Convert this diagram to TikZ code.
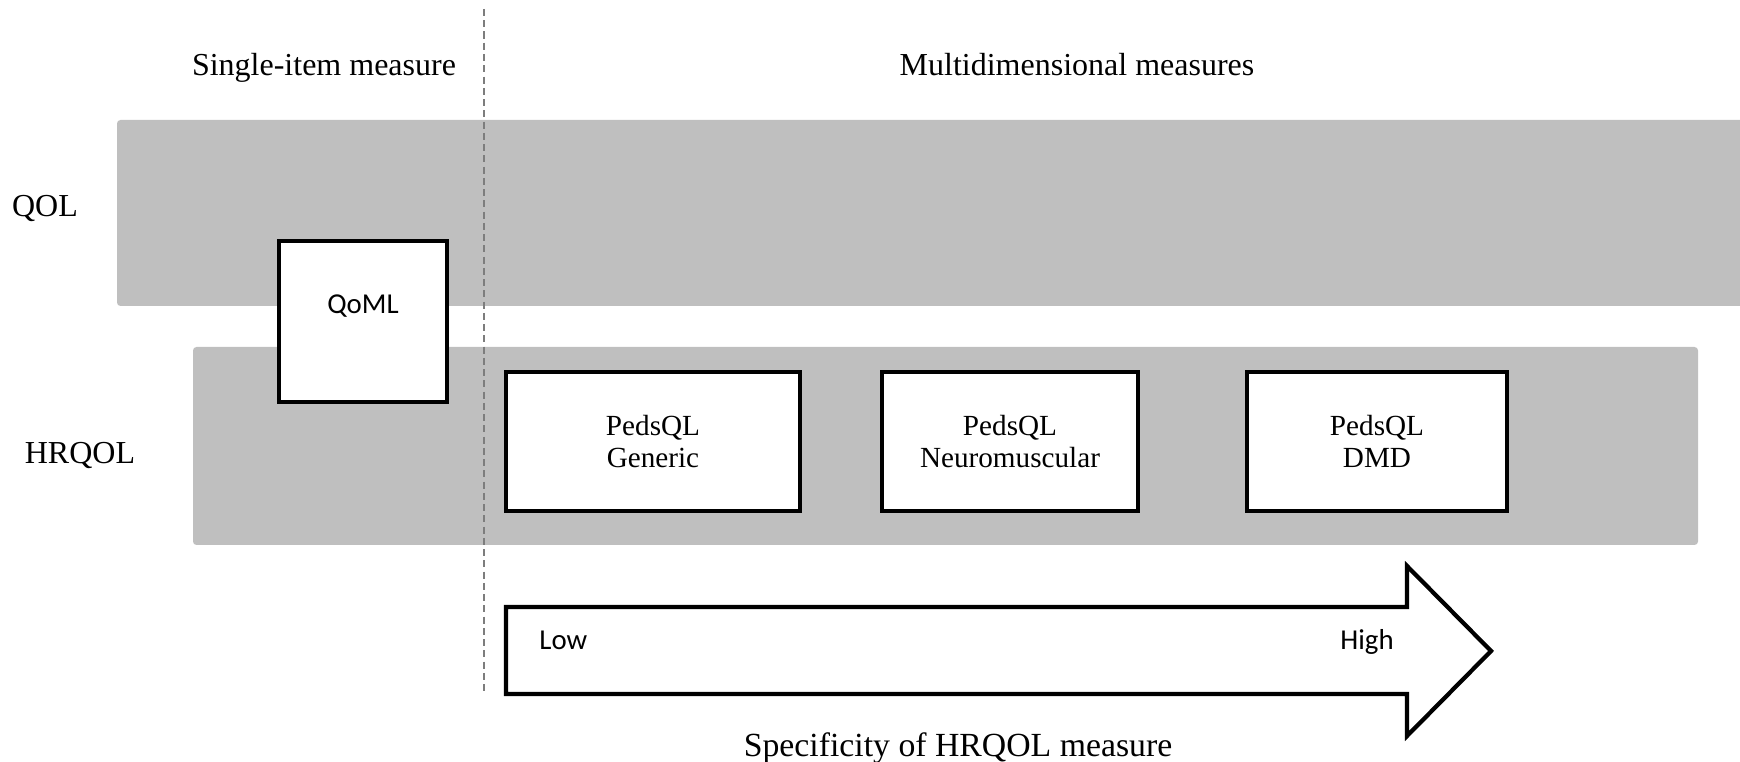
\documentclass[tikz,border=0pt]{standalone}
\usepackage{fontspec}
\setmainfont{Liberation Serif}
\newfontfamily\calibri{Carlito}
\usetikzlibrary{positioning}
\definecolor{bandgray}{RGB}{191,191,191}
\definecolor{dashgray}{RGB}{125,125,125}

\begin{document}
\begin{tikzpicture}[x=0.01cm,y=-0.01cm,
	heading/.style={font=\fontsize{9.1}{11}\selectfont},
	band/.style={fill=bandgray,rounded corners=1pt},
	measure/.style={draw,line width=1.2pt,fill=white,align=center,
		font=\fontsize{8.3}{9.2}\selectfont},
	tag/.style={font=\calibri\fontsize{8.2}{10}\selectfont}]
	\useasboundingbox (0,0) rectangle (1740,762);
	% the two bands
	\fill[band] (117,120) rectangle (1745,306);
	\fill[band] (193,347) rectangle (1698,545);
	% divider between single-item and multidimensional
	\coordinate (divtop) at (484,9);
	\coordinate (divbot) at (484,694);
	\draw[dashgray,line width=0.7pt,dash pattern=on 2pt off 1.2pt] (divtop) -- (divbot);
	\node[heading,anchor=base] (single) at (324,76) {Single-item measure};
	\node[heading,anchor=base] (multi) at (1077,76) {Multidimensional measures};
	\node[heading,anchor=base] (qol) at (45,217) {QOL};
	\node[heading,anchor=base] (hrqol) at (80,464) {HRQOL};
	% measures
	\node[measure,minimum width=1.68cm,minimum height=1.61cm] (qoml) at (363,321.5) {};
	\node[tag,anchor=base] (qomltext) at ([yshift=-0.75cm]qoml.north) {QoML};
	\node[measure,minimum width=2.94cm,minimum height=1.39cm] (generic) at (653,441.5) {PedsQL\\Generic};
	\node[measure,minimum width=2.56cm,minimum height=1.39cm] (neuro) at (1010,441.5) {PedsQL\\Neuromuscular};
	\node[measure,minimum width=2.60cm,minimum height=1.39cm] (dmd) at (1377,441.5) {PedsQL\\DMD};
	% specificity arrow
	\draw[line width=1.2pt,fill=white,line join=miter]
		(506,607) -- (1407,607) -- (1407,566) -- (1491,651) -- (1407,736) -- (1407,694) -- (506,694) -- cycle;
	\node[tag,anchor=base west] (low) at (527,650) {Low};
	\node[tag,anchor=base] (high) at (1367,650) {High};
	\node[heading,anchor=base,font=\fontsize{9.6}{11}\selectfont] (spec) at (958,757) {Specificity of HRQOL measure};
\end{tikzpicture}
\end{document}
